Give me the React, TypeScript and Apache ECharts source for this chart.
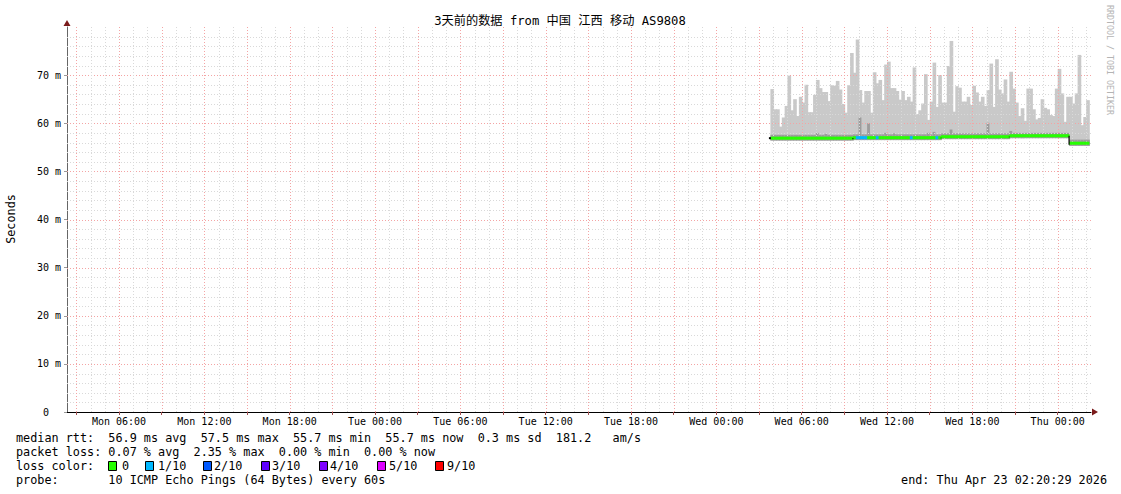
import React, { useEffect, useRef } from "react";
import * as echarts from "echarts";

// ---- time frame (hours since Mon 00:00) ----
const X_MIN = 2 + 20 / 60 + 29 / 3600; // Mon 02:20:29
const X_MAX = X_MIN + 72; // Thu 02:20:29
const STEP = 0.2; // 12 minute consolidation step
const FIRST_BAR = 51.8; // Wed 03:48

// ---- x-axis labels ----
const labelHours = [6, 12, 18, 24, 30, 36, 42, 48, 54, 60, 66, 72];
const labelTexts = [
  "Mon 06:00", "Mon 12:00", "Mon 18:00", "Tue 00:00", "Tue 06:00", "Tue 12:00",
  "Tue 18:00", "Wed 00:00", "Wed 06:00", "Wed 12:00", "Wed 18:00", "Thu 00:00",
];
const majorTickHours = [3, 6, 9, 12, 15, 18, 21, 24, 27, 30, 33, 36, 39, 42, 45, 48, 51, 54, 57, 60, 63, 66, 69, 72];
const gridHours = [
  3, 4, 5, 6, 7, 8, 9, 10, 11, 12, 13, 14, 15, 16, 17, 18, 19, 20, 21, 22, 23, 24, 25, 26, 27, 28, 29, 30,
  31, 32, 33, 34, 35, 36, 37, 38, 39, 40, 41, 42, 43, 44, 45, 46, 47, 48, 49, 50, 51, 52, 53, 54, 55, 56,
  57, 58, 59, 60, 61, 62, 63, 64, 65, 66, 67, 68, 69, 70, 71, 72, 73, 74,
];
const gridMs = [2, 4, 6, 8, 10, 12, 14, 16, 18, 20, 22, 24, 26, 28, 30, 32, 34, 36, 38, 40, 42, 44, 46, 48, 50, 52, 54, 56, 58, 60, 62, 64, 66, 68, 70, 72, 74, 76, 78];

// ---- data (ms) ----
const smokeMax = [
  67.1, 62.9, 62.9, 59.3, 61.2, 63.6, 69.9, 62.7, 65.0, 61.5,
  65.5, 64.3, 68.0, 62.3, 62.3, 65.9, 69.0, 67.3, 66.5, 66.5,
  64.6, 67.9, 67.8, 68.8, 67.0, 64.0, 62.2, 67.9, 74.6, 70.5,
  77.4, 66.9, 64.3, 66.7, 66.7, 62.2, 70.6, 68.3, 69.0, 64.8,
  72.2, 72.8, 67.3, 67.3, 66.7, 64.9, 66.7, 64.8, 65.5, 64.5,
  71.6, 61.9, 62.7, 64.1, 70.2, 60.7, 64.5, 72.6, 63.4, 70.0,
  64.3, 64.3, 71.9, 77.1, 62.4, 67.7, 67.4, 64.5, 64.5, 65.5,
  63.8, 67.8, 66.4, 64.5, 65.5, 63.6, 66.9, 72.4, 63.4, 73.3,
  67.0, 66.2, 69.1, 64.5, 70.7, 67.2, 64.3, 61.5, 63.1, 60.5,
  67.2, 67.2, 62.9, 60.8, 61.1, 65.0, 63.2, 62.9, 61.7, 61.5,
  67.2, 71.3, 66.2, 60.3, 65.5, 65.5, 64.1, 66.2, 74.2, 59.6,
  61.3, 64.8,
];
const smokeInner = [
  57.6, 57.6, 57.6, 57.6, 57.6, 57.6, 57.6, 57.6, 57.6, 57.6,
  57.6, 57.6, 57.6, 57.6, 57.6, 57.6, 58.0, 57.6, 57.6, 57.8,
  57.6, 57.6, 57.6, 57.6, 57.6, 57.6, 57.6, 57.6, 57.6, 57.7,
  57.7, 61.2, 57.7, 57.7, 60.0, 57.7, 57.7, 57.7, 57.7, 57.7,
  58.0, 57.7, 57.7, 57.9, 57.7, 57.7, 57.7, 57.7, 57.7, 57.7,
  57.7, 57.7, 57.7, 57.7, 57.7, 58.0, 57.7, 58.2, 57.7, 57.7,
  57.9, 57.9, 57.9, 58.7, 57.9, 57.9, 57.9, 57.9, 57.9, 57.9,
  57.9, 57.9, 57.9, 57.9, 57.9, 57.9, 60.1, 57.9, 57.9, 57.9,
  57.9, 57.9, 57.9, 57.9, 58.4, 58.0, 58.0, 58.0, 58.0, 58.0,
  58.0, 58.0, 58.0, 58.0, 58.0, 58.0, 58.0, 58.0, 58.0, 58.0,
  58.0, 58.0, 58.0, 58.0, 58.0, 56.6, 56.6, 56.6, 56.6, 56.6,
  56.6, 56.6,
];
const smokeMin = [
  56.4, 56.4, 56.4, 56.4, 56.4, 56.4, 56.4, 56.4, 56.4, 56.4,
  56.4, 56.4, 56.4, 56.4, 56.4, 56.4, 56.4, 56.4, 56.4, 56.4,
  56.4, 56.4, 56.4, 56.4, 56.4, 56.4, 56.4, 56.4, 56.4, 56.5,
  56.5, 56.5, 56.5, 56.5, 56.5, 56.5, 56.5, 56.5, 56.5, 56.5,
  56.5, 56.5, 56.5, 56.5, 56.5, 56.5, 56.5, 56.5, 56.5, 56.5,
  56.5, 56.5, 56.5, 56.5, 56.5, 56.5, 56.5, 56.5, 56.5, 56.5,
  56.7, 56.7, 56.7, 56.7, 56.7, 56.7, 56.7, 56.7, 56.7, 56.7,
  56.7, 56.7, 56.7, 56.7, 56.7, 56.7, 56.7, 56.7, 56.7, 56.7,
  56.7, 56.7, 56.7, 56.7, 56.9, 56.9, 56.9, 56.9, 56.9, 56.9,
  56.9, 56.9, 56.9, 56.9, 56.9, 56.9, 56.9, 56.9, 56.9, 56.9,
  56.9, 56.9, 56.9, 56.9, 56.9, 55.3, 55.3, 55.3, 55.3, 55.3,
  55.3, 55.3,
];
const medianRtt = [
  56.9, 56.9, 56.9, 56.9, 56.9, 56.9, 56.9, 56.9, 56.9, 56.9,
  56.9, 56.9, 56.9, 56.9, 56.9, 56.9, 56.9, 56.9, 56.9, 56.9,
  56.9, 56.9, 56.9, 56.9, 56.9, 56.9, 56.9, 56.9, 56.9, 57.0,
  57.0, 57.0, 57.0, 57.0, 57.0, 57.0, 57.0, 57.0, 57.0, 57.0,
  57.0, 57.0, 57.0, 57.0, 57.0, 57.0, 57.0, 57.0, 57.0, 57.0,
  57.0, 57.0, 57.0, 57.0, 57.0, 57.0, 57.0, 57.0, 57.0, 57.0,
  57.2, 57.2, 57.2, 57.2, 57.2, 57.2, 57.2, 57.2, 57.2, 57.2,
  57.2, 57.2, 57.2, 57.2, 57.2, 57.2, 57.2, 57.2, 57.2, 57.2,
  57.2, 57.2, 57.2, 57.2, 57.4, 57.4, 57.4, 57.4, 57.4, 57.4,
  57.4, 57.4, 57.4, 57.4, 57.4, 57.4, 57.4, 57.4, 57.4, 57.4,
  57.4, 57.4, 57.4, 57.4, 57.4, 55.85, 55.85, 55.85, 55.85, 55.85,
  55.85, 55.85,
];
// index into lossColors (0 = no loss, 1 = 1/10)
const lossLevel = [
  0, 0, 0, 0, 0, 0, 0, 0, 0, 0,
  0, 0, 0, 0, 0, 0, 0, 0, 0, 0,
  0, 0, 0, 0, 0, 0, 0, 0, 0, 0,
  1, 1, 1, 1, 0, 0, 0, 1, 0, 0,
  0, 0, 0, 0, 0, 0, 0, 0, 0, 1,
  0, 0, 0, 0, 0, 0, 0, 0, 1, 0,
  0, 0, 0, 0, 0, 0, 0, 0, 0, 0,
  0, 0, 0, 0, 0, 0, 0, 0, 0, 0,
  0, 0, 0, 0, 0, 0, 0, 0, 0, 0,
  0, 0, 0, 0, 0, 0, 0, 0, 0, 0,
  0, 0, 0, 0, 0, 0, 0, 0, 0, 0,
  0, 0,
];

const lossColors = ["#26ff00", "#00b8ff", "#0059ff", "#5e00ff", "#7e00ff", "#dd00ff", "#ff0000"];
const lossLabels = ["0", "1/10", "2/10", "3/10", "4/10", "5/10", "9/10"];

const legendLines = [
  "median rtt:  56.9 ms avg  57.5 ms max  55.7 ms min  55.7 ms now  0.3 ms sd  181.2   am/s",
  "packet loss: 0.07 % avg  2.35 % max  0.00 % min  0.00 % now",
  "loss color:",
  "probe:       10 ICMP Echo Pings (64 Bytes) every 60s",
];
const endText = "end: Thu Apr 23 02:20:29 2026";
const titleText = "3天前的数据 from 中国 江西 移动 AS9808";

const MONO = '"DejaVu Sans Mono", "Noto Sans CJK SC", monospace';
const nb = (s: string) => s.replace(/ /g, "\u00a0");

export default function App() {
  const ref = useRef<HTMLDivElement>(null);
  useEffect(() => {
    if (!ref.current) return;
    const chart = echarts.init(ref.current, undefined, { renderer: "svg" });
    const barTimes = smokeMax.map((_, i) => FIRST_BAR + i * STEP);

    const smokeData = smokeMax.map((m, i) => [barTimes[i], smokeMin[i], smokeInner[i], m]);
    const medianData = medianRtt.map((m, i) => [barTimes[i], m, lossLevel[i]]);
    const vData = gridHours.map((h) => [h, 0]);
    const hData = gridMs.map((v) => [X_MIN, v]);

    const legendBoxX = [108, 145, 203, 261, 319, 377, 435];
    const legendLabelX = [122, 158, 214, 272, 330, 389, 447];
    const rowY = [438, 452, 466, 480];

    const graphic: any[] = [
      {
        type: "text", x: 560, y: 21,
        style: { text: titleText, fill: "#000", font: `12.2px ${MONO}`, align: "center", verticalAlign: "middle", textAlign: "center", textVerticalAlign: "middle" },
      },
      {
        type: "text", x: 11, y: 219, rotation: Math.PI / 2,
        style: { text: "Seconds", fill: "#000", font: `11.8px ${MONO}`, align: "center", verticalAlign: "middle", textAlign: "center", textVerticalAlign: "middle" },
      },
      {
        type: "text", x: 1110, y: 60, rotation: -Math.PI / 2,
        style: { text: nb("RRDTOOL / TOBI OETIKER"), fill: "#b4b4b4", font: `8.3px ${MONO}`, align: "center", verticalAlign: "middle", textAlign: "center", textVerticalAlign: "middle" },
      },
      { type: "polygon", shape: { points: [[63.5, 26], [70.5, 26], [67, 20]] }, style: { fill: "#7a1a1a" } },
      { type: "polygon", shape: { points: [[1092, 408.5], [1092, 415.5], [1098, 412]] }, style: { fill: "#7a1a1a" } },
    ];
    legendLines.forEach((line, i) => {
      graphic.push({
        type: "text", x: 16, y: rowY[i],
        style: { text: nb(line), fill: "#000", font: `11.8px ${MONO}`, align: "left", verticalAlign: "middle", textAlign: "left", textVerticalAlign: "middle" },
      });
    });
    lossColors.forEach((c, i) => {
      graphic.push({ type: "rect", shape: { x: legendBoxX[i] + 0.5, y: 461.5, width: 8, height: 9 }, style: { fill: c, stroke: "#000", lineWidth: 1 } });
      graphic.push({
        type: "text", x: legendLabelX[i], y: 466,
        style: { text: lossLabels[i], fill: "#000", font: `11.8px ${MONO}`, align: "left", verticalAlign: "middle", textAlign: "left", textVerticalAlign: "middle" },
      });
    });
    graphic.push({
      type: "text", x: 1107, y: 480,
      style: { text: nb(endText), fill: "#000", font: `11.8px ${MONO}`, align: "right", verticalAlign: "middle", textAlign: "right", textVerticalAlign: "middle" },
    });

    const option: any = {
      animation: false,
      backgroundColor: "#ffffff",
      grid: { left: 67, top: 27, width: 1024, height: 385, containLabel: false },
      xAxis: {
        type: "value", min: X_MIN, max: X_MAX,
        axisLine: { show: true, lineStyle: { color: "#000", width: 1 } },
        axisTick: { show: true, customValues: majorTickHours, length: 3, lineStyle: { color: "#a05050" } },
        axisLabel: {
          customValues: labelHours,
          formatter: (v: number) => {
            const k = labelHours.indexOf(Math.round(v));
            return k >= 0 ? labelTexts[k] : "";
          },
          fontFamily: MONO, fontSize: 10, color: "#000", margin: 4,
        },
        splitLine: { show: false },
      },
      yAxis: {
        type: "value", min: 0, max: 80, interval: 10,
        axisLine: { show: true, lineStyle: { color: "#666", width: 1 } },
        axisTick: { show: true, length: 3, lineStyle: { color: "#999" } },
        axisLabel: {
          formatter: (v: number) => (v === 0 ? "\u00a00\u00a0\u00a0" : `${v}\u00a0m`),
          fontFamily: MONO, fontSize: 10, color: "#000", margin: 6, showMaxLabel: false,
        },
        splitLine: { show: false },
      },
      series: [
        {
          type: "custom", name: "smoke", z: 2,
          data: smokeData,
          encode: { x: 0, y: 3 },
          renderItem: (params: any, api: any) => {
            const t = api.value(0), lo = api.value(1), dk = api.value(2), hi = api.value(3);
            const a = api.coord([t, lo]);
            const b = api.coord([t + STEP, hi]);
            const c = api.coord([t + STEP, dk]);
            const w = b[0] - a[0] + 0.8;
            return {
              type: "group",
              children: [
                { type: "rect", shape: { x: a[0], y: b[1], width: w, height: a[1] - b[1] }, style: { fill: "#c9c9c9" } },
                { type: "rect", shape: { x: a[0], y: c[1], width: w, height: a[1] - c[1] }, style: { fill: "#9c9c9c" } },
              ],
            };
          },
        },
        {
          type: "custom", name: "hgrid", z: 3, silent: true,
          data: hData,
          encode: { x: 0, y: 1 },
          renderItem: (params: any, api: any) => {
            const v = api.value(1);
            const p0 = api.coord([X_MIN, v]);
            const p1 = api.coord([X_MAX, v]);
            const y = Math.round(p0[1]) + 0.5;
            const major = Math.round(v) % 10 === 0;
            return {
              type: "line",
              shape: { x1: p0[0], y1: y, x2: p1[0] + 2, y2: y },
              style: { stroke: major ? "#f4a4a4" : "#d9d9d9", lineWidth: 1, lineDash: [1, 2] },
            };
          },
        },
        {
          type: "custom", name: "vgrid", z: 3, silent: true,
          data: vData,
          encode: { x: 0, y: 1 },
          renderItem: (params: any, api: any) => {
            const h = api.value(0);
            const p0 = api.coord([h, 0]);
            const p1 = api.coord([h, 80]);
            const x = Math.round(p0[0]) + 0.5;
            const major = Math.round(h) % 3 === 0;
            return {
              type: "line",
              shape: { x1: x, y1: p0[1], x2: x, y2: p1[1] - 1 },
              style: { stroke: major ? "#f4a4a4" : "#d9d9d9", lineWidth: 1, lineDash: [1, 2] },
            };
          },
        },
        {
          type: "custom", name: "median", z: 4,
          data: medianData,
          encode: { x: 0, y: 1 },
          renderItem: (params: any, api: any) => {
            const i = params.dataIndex;
            const t = api.value(0), m = api.value(1), loss = api.value(2);
            const a = api.coord([t, m]);
            const b = api.coord([t + STEP, m]);
            const children: any[] = [
              { type: "rect", shape: { x: a[0], y: a[1] - 1.5, width: b[0] - a[0] + 0.5, height: 3 }, style: { fill: lossColors[loss] } },
            ];
            if (i > 0 && medianRtt[i - 1] !== m) {
              const p = api.coord([t, medianRtt[i - 1]]);
              children.push({ type: "line", shape: { x1: a[0], y1: p[1], x2: a[0], y2: a[1] + 1.5 }, style: { stroke: "#000", lineWidth: 1.2 } });
            }
            if (i === 0) {
              children.push({ type: "rect", shape: { x: a[0] - 1.5, y: a[1] - 1, width: 2, height: 2 }, style: { fill: "#000" } });
            }
            return { type: "group", children };
          },
        },
      ],
      graphic,
    };
    chart.setOption(option);
    return () => chart.dispose();
  }, []);

  return (
    <div
      ref={ref}
      style={{ position: "fixed", left: 0, top: 0, width: 1121, height: 494, background: "#fff" }}
    />
  );
}
